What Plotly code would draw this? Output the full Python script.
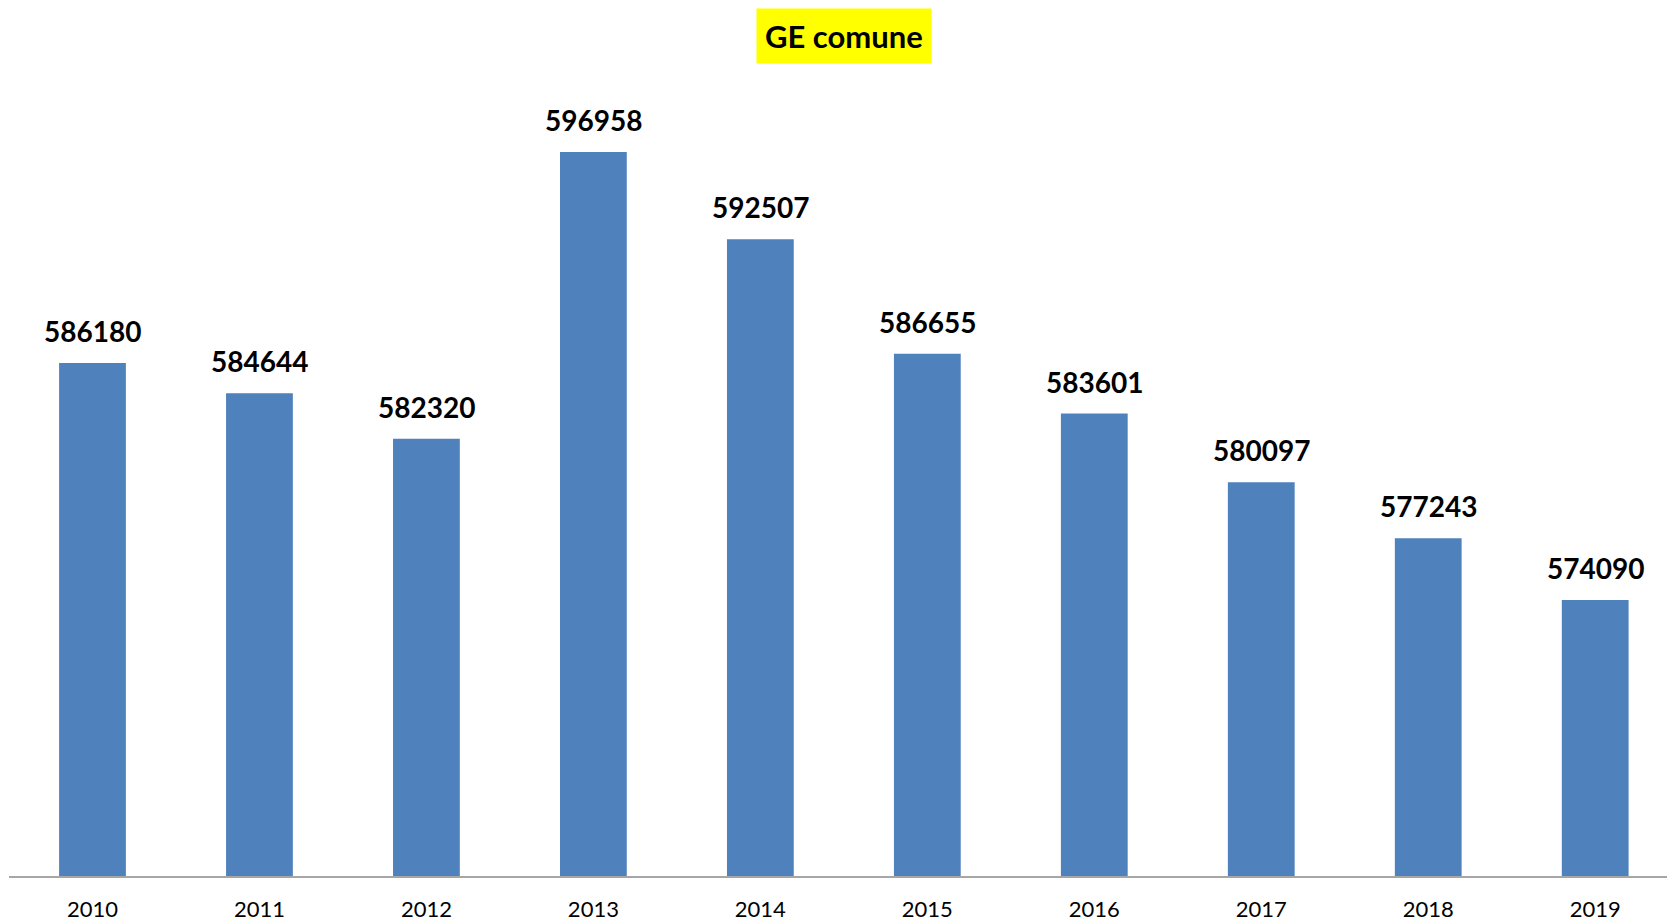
import plotly.graph_objects as go

years = ["2010", "2011", "2012", "2013", "2014", "2015", "2016", "2017", "2018", "2019"]
values = [586180, 584644, 582320, 596958, 592507, 586655, 583601, 580097, 577243, 574090]
title_text = "GE comune"

W, H = 1667, 923
ML, MT, AXIS_Y = 9, 60, 876
plot_w = W - ML
plot_h = AXIS_Y - MT

fig = go.Figure()
fig.add_trace(go.Bar(
    x=years, y=values,
    marker=dict(color="#4F81BD", line=dict(width=0)),
    width=0.4,
    hoverinfo="x+y",
))

for i, v in enumerate(values):
    fig.add_annotation(
        x=i, y=v, xref="x", yref="y",
        text=f"<b>{v}</b>", showarrow=False,
        xanchor="center", yanchor="bottom", yshift=13,
        font=dict(family="Lato", size=28, color="#000000"),
    )

fig.add_annotation(
    x=(844 - ML) / plot_w, y=(AXIS_Y - 36) / plot_h,
    xref="paper", yref="paper", text=f"<b>{title_text}</b>",
    xanchor="center", yanchor="middle",
    showarrow=False, bgcolor="#FFFF00", borderpad=8,
    font=dict(family="Lato", size=31, color="#000000"),
)

fig.update_layout(
    width=W, height=H,
    margin=dict(l=ML, r=0, t=MT, b=H - AXIS_Y, autoexpand=False),
    plot_bgcolor="white", paper_bgcolor="white",
    showlegend=False,
    bargap=0.6,
)

fig.update_xaxes(
    type="category", range=[-0.5, 9.43],
    showline=True, linecolor="#A6A6A6", linewidth=2,
    ticks="", ticklabelstandoff=13, automargin=False,
    tickfont=dict(family="Lato", size=22, color="#000000"),
    showgrid=False, zeroline=False,
)
fig.update_yaxes(
    range=[560000, 601650], visible=False, showgrid=False, zeroline=False,
    automargin=False,
)

fig.write_html("out.html")
